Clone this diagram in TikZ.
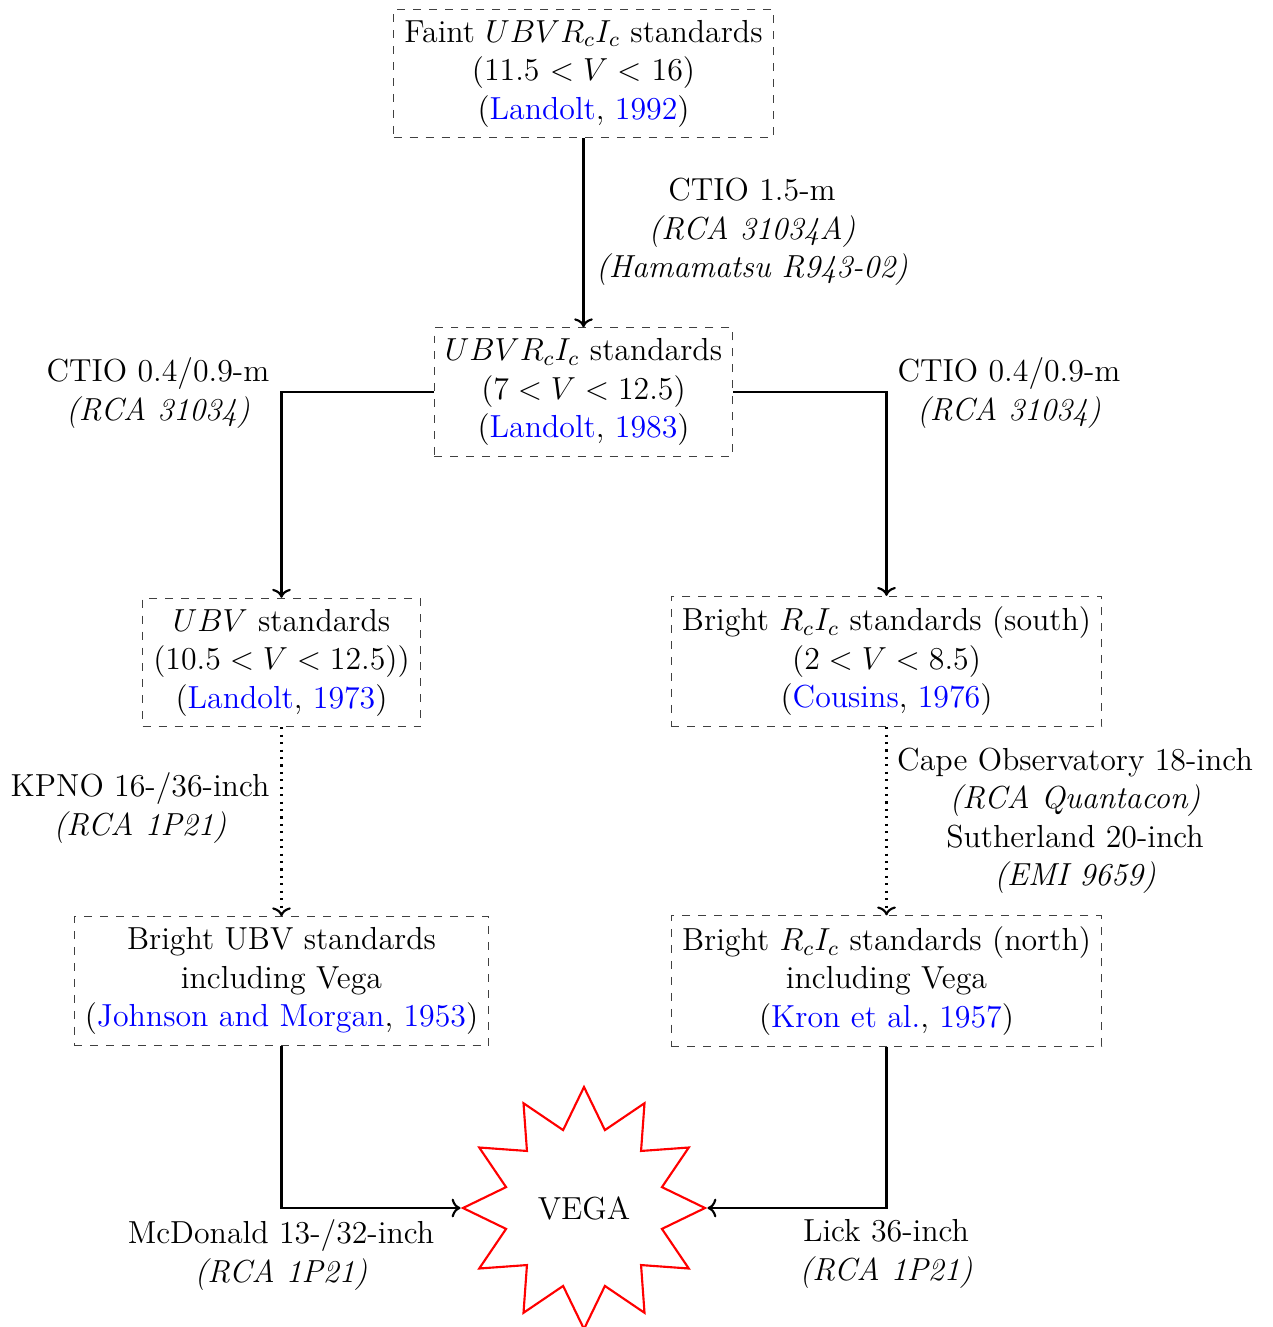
\documentclass[tikz,border=0pt]{standalone}
\usetikzlibrary{shapes.geometric,arrows.meta}
\begin{document}
\begin{tikzpicture}[x=0.3766pt,y=-0.3766pt,font=\fontsize{12}{14.5}\selectfont,
  stdbox/.style={draw=black!75,dashed,align=center,inner sep=4pt},
  lbl/.style={align=center,inner sep=0pt},
  conn/.style={thick,->},
  dconn/.style={thick,dotted,->}]
\useasboundingbox (0,0) rectangle (1272,1327);
\node[stdbox] (faint) at (583.5,73.5) {Faint $UBVR_cI_c$ standards\\(11.5 $<V<$ 16)\\(\textcolor{blue}{Landolt}, \textcolor{blue}{1992})};
\node[stdbox] (mid) at (583.5,392) {$UBVR_cI_c$ standards\\($7<V<12.5$)\\(\textcolor{blue}{Landolt}, \textcolor{blue}{1983})};
\node[stdbox] (ubv) at (281.5,662.5) {$UBV$ standards\\($10.5<V<12.5$))\\(\textcolor{blue}{Landolt}, \textcolor{blue}{1973})};
\node[stdbox] (south) at (886.5,661.5) {Bright $R_cI_c$ standards (south)\\($2<V<8.5$)\\(\textcolor{blue}{Cousins}, \textcolor{blue}{1976})};
\node[stdbox] (bubv) at (281.5,981) {Bright UBV standards\\including Vega\\(\textcolor{blue}{Johnson and Morgan}, \textcolor{blue}{1953})};
\node[stdbox] (north) at (886.5,981) {Bright $R_cI_c$ standards (north)\\including Vega\\(\textcolor{blue}{Kron et al.}, \textcolor{blue}{1957})};
\node[star,star points=12,star point ratio=1.5,draw=red,thick,minimum size=242*0.3766pt,inner sep=0pt] (vega) at (584,1208) {VEGA};
\node[lbl] (l1) at (752,232) {CTIO 1.5-m\\\textit{(RCA 31034A)}\\\textit{(Hamamatsu R943-02)}};
\node[lbl] (l2) at (158,393) {CTIO 0.4/0.9-m\\\textit{(RCA 31034)}};
\node[lbl] (l3) at (1009,393) {CTIO 0.4/0.9-m\\\textit{(RCA 31034)}};
\node[lbl] (l4) at (140,808) {KPNO 16-/36-inch\\\textit{(RCA 1P21)}};
\node[lbl] (l5) at (1075,821) {Cape Observatory 18-inch\\\textit{(RCA Quantacon)}\\Sutherland 20-inch\\\textit{(EMI 9659)}};
\node[lbl] (l6) at (281,1255) {McDonald 13-/32-inch\\\textit{(RCA 1P21)}};
\node[lbl] (l7) at (886,1254) {Lick 36-inch\\\textit{(RCA 1P21)}};
\draw[conn] (faint.south) -- (mid.north);
\draw[conn] (mid.west) -| (ubv.north);
\draw[conn] (mid.east) -| (south.north);
\draw[dconn] (ubv.south) -- (bubv.north);
\draw[dconn] (south.south) -- (north.north);
\draw[conn] (bubv.south) |- (vega.west);
\draw[conn] (north.south) |- (vega.east);
\end{tikzpicture}
\end{document}
